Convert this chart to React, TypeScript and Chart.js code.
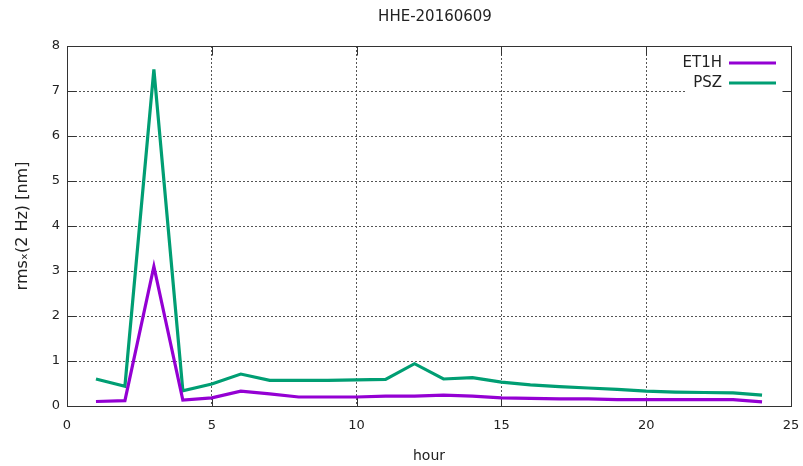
import React, { useEffect, useRef } from "react";
import { Chart, registerables } from "chart.js";

Chart.register(...registerables);

const TITLE = "HHE-20160609";
const X_TITLE = "hour";
const Y_TITLE = "rmsₓ(2 Hz) [nm]";
const hours = [1, 2, 3, 4, 5, 6, 7, 8, 9, 10, 11, 12, 13, 14, 15, 16, 17, 18, 19, 20, 21, 22, 23, 24];
const et1h = [0.10, 0.12, 3.1, 0.13, 0.18, 0.33, 0.27, 0.20, 0.20, 0.20, 0.22, 0.22, 0.24, 0.22, 0.18, 0.17, 0.16, 0.16, 0.14, 0.14, 0.14, 0.14, 0.14, 0.09];
const psz = [0.60, 0.44, 7.48, 0.34, 0.49, 0.71, 0.57, 0.57, 0.57, 0.58, 0.59, 0.94, 0.60, 0.63, 0.53, 0.47, 0.43, 0.40, 0.37, 0.33, 0.31, 0.30, 0.29, 0.24];
const seriesLabels = ["ET1H", "PSZ"];
const seriesColors = ["#9400D3", "#009E73"];
const xMin = 0, xMax = 25, xStep = 5;
const yMin = 0, yMax = 8, yStep = 1;

const FONT = '"DejaVu Sans", sans-serif';
const TEXT = "#222";
const FRAME = "#333";

const gnuplotPlugin = {
  id: "gnuplotFrame",
  beforeDatasetsDraw(chart: any) {
    const { ctx, chartArea: a, scales } = chart;
    ctx.save();
    // legend background (hides grid)
    ctx.fillStyle = "#fff";
    ctx.fillRect(a.right - 105, a.top + 1, 104, 48);
    ctx.setLineDash([]);
    ctx.strokeStyle = FRAME;
    ctx.lineWidth = 1;
    const tl = 9;
    const L = Math.round(a.left) + 0.5, R = Math.round(a.right) + 0.5;
    const T = Math.round(a.top) + 0.5, B = Math.round(a.bottom) + 0.5;
    ctx.beginPath();
    scales.x.ticks.forEach((t: any) => {
      const px = Math.round(scales.x.getPixelForValue(t.value)) + 0.5;
      ctx.moveTo(px, B); ctx.lineTo(px, B - tl);
      ctx.moveTo(px, T); ctx.lineTo(px, T + tl);
    });
    scales.y.ticks.forEach((t: any) => {
      const py = Math.round(scales.y.getPixelForValue(t.value)) + 0.5;
      ctx.moveTo(L, py); ctx.lineTo(L + tl, py);
      ctx.moveTo(R, py); ctx.lineTo(R - tl, py);
    });
    ctx.stroke();
    ctx.strokeRect(L, T, R - L, B - T);
    // title
    ctx.fillStyle = TEXT;
    ctx.font = `15px ${FONT}`;
    ctx.textAlign = "center";
    ctx.textBaseline = "middle";
    ctx.fillText(TITLE, (a.left + a.right) / 2 + 6, 17);
    ctx.restore();
  },
  afterDatasetsDraw(chart: any) {
    const { ctx, chartArea: a } = chart;
    ctx.save();
    chart.data.datasets.forEach((ds: any, i: number) => {
      const y = a.top + 17 + i * 20;
      ctx.fillStyle = TEXT;
      ctx.font = `15px ${FONT}`;
      ctx.textAlign = "right";
      ctx.textBaseline = "middle";
      ctx.fillText(ds.label, a.right - 69, y);
      ctx.strokeStyle = ds.borderColor;
      ctx.lineWidth = 3;
      ctx.setLineDash([]);
      ctx.beginPath();
      ctx.moveTo(a.right - 62, y);
      ctx.lineTo(a.right - 15, y);
      ctx.stroke();
    });
    ctx.restore();
  },
};

export default function App() {
  const ref = useRef<HTMLCanvasElement | null>(null);
  useEffect(() => {
    document.body.style.margin = "0";
    const canvas = ref.current!;
    const seriesValues = [et1h, psz];
    const chart = new Chart(canvas, {
      type: "line",
      data: {
        datasets: seriesValues.map((vals, i) => ({
          label: seriesLabels[i],
          data: hours.map((h, j) => ({ x: h, y: vals[j] })),
          borderColor: seriesColors[i],
          backgroundColor: seriesColors[i],
          borderWidth: 3.2,
          pointRadius: 0,
          tension: 0,
          fill: false,
        })),
      },
      options: {
        responsive: false,
        animation: false,
        events: [],
        layout: { padding: { top: 46, right: 12, left: 0, bottom: 0 } },
        plugins: {
          legend: { display: false },
          title: { display: false },
          tooltip: { enabled: false },
        },
        scales: {
          x: {
            type: "linear",
            min: xMin,
            max: xMax,
            ticks: { stepSize: xStep, color: TEXT, font: { family: FONT, size: 13 }, padding: 12, maxRotation: 0 },
            grid: { color: "#555", lineWidth: 1, drawTicks: false, borderDash: [2, 2] } as any,
            border: { display: false, dash: [2, 2] },
            title: { display: true, text: X_TITLE, color: TEXT, font: { family: FONT, size: 14 }, padding: { top: 0, bottom: 1 } },
            afterFit: (s: any) => { s.height = 60; s.paddingLeft = 0; s.paddingRight = 0; },
          },
          y: {
            type: "linear",
            min: yMin,
            max: yMax,
            ticks: { stepSize: yStep, color: TEXT, font: { family: FONT, size: 13 }, padding: 7 },
            grid: { color: "#555", lineWidth: 1, drawTicks: false, borderDash: [2, 2] } as any,
            border: { display: false, dash: [2, 2] },
            title: { display: true, text: Y_TITLE, color: TEXT, font: { family: FONT, size: 16 }, padding: { top: 13, bottom: 0 } },
            afterFit: (s: any) => { s.width = 67; s.paddingTop = 0; s.paddingBottom = 0; },
          },
        },
      },
      plugins: [gnuplotPlugin],
    });
    return () => chart.destroy();
  }, []);
  return (
    <div style={{ width: 803, height: 466, background: "#fff" }}>
      <canvas ref={ref} width={803} height={466} style={{ display: "block" }} />
    </div>
  );
}
